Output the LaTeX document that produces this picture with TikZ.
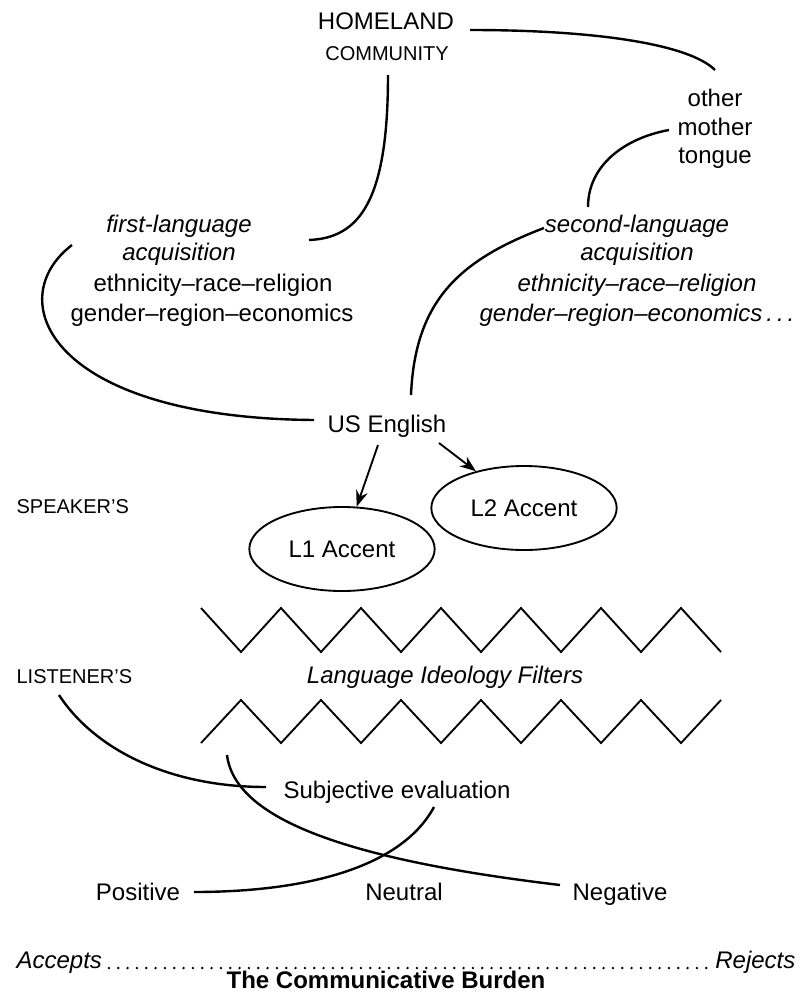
\documentclass[tikz,border=0pt]{standalone}
\usepackage{fontspec}
\setmainfont{Liberation Sans}
\usetikzlibrary{shapes.geometric,arrows.meta}

\begin{document}
\begin{tikzpicture}[x=0.75pt,y=-0.75pt,
		txt/.style={font=\fontsize{18}{22}\selectfont, inner sep=1pt, anchor=base},
		smallcaps/.style={font=\fontsize{15}{18}\selectfont, inner sep=1pt, anchor=base},
		curve/.style={line width=1.8pt},
		accent/.style={draw, ellipse, line width=1.4pt, minimum width=139pt, minimum height=63pt, inner sep=0pt, font=\fontsize{18}{22}\selectfont},
		arr/.style={line width=1.4pt, -{Stealth[length=12pt,width=9pt]}},
		zigzag/.style={line width=1.4pt, line join=miter}]
		\useasboundingbox (0,0) rectangle (801,996);

		\node[txt] (home) at (386,29) {HOMELAND};
		\node[smallcaps] (comm) at (387,60) {COMMUNITY};
		\node[txt] (other) at (715,106) {other};
		\node[txt] (mother) at (715,135) {mother};
		\node[txt] (tongue) at (715,163) {tongue};

		\node[txt] (first) at (179,232) {\itshape first-language};
		\node[txt] (acqa) at (179,260) {\itshape acquisition};
		\node[txt] (etha) at (213,291) {ethnicity–race–religion};
		\node[txt] (gena) at (212,321) {gender–region–economics};

		\node[txt] (second) at (637,232) {\itshape second-language};
		\node[txt] (acqb) at (637,260) {\itshape acquisition};
		\node[txt] (ethb) at (637,291) {\itshape ethnicity–race–religion};
		\node[txt] (genb) at (637,321) {\itshape gender–region–economics\,.\,.\,.};

		\node[txt] (us) at (387,432) {US English};
		\node[smallcaps, anchor=base west] (speaker) at (15,513) {SPEAKER'S};
		\node[accent] (l1) at (342,549) {L1 Accent};
		\node[accent] (l2) at (524,508) {L2 Accent};
		\node[smallcaps, anchor=base west] (listener) at (15,683) {LISTENER'S};
		\node[txt] (filters) at (445,683) {\itshape Language Ideology Filters};
		\node[txt] (subj) at (397,798) {Subjective evaluation};
		\node[txt] (pos) at (138,900) {Positive};
		\node[txt] (neu) at (404,900) {Neutral};
		\node[txt] (neg) at (620,900) {Negative};
		\node[txt, anchor=base west] (acc) at (15,968) {\itshape Accepts};
		\node[txt, anchor=base east] (rej) at (797,968) {\itshape Rejects};
		\node[txt] (burden) at (386,988) {\bfseries The Communicative Burden};

		\coordinate (home-r) at (470,30);
		\coordinate (other-t) at (715,70);
		\coordinate (comm-b) at (388,75);
		\coordinate (first-r) at (309,240);
		\coordinate (mother-l) at (669,130);
		\coordinate (second-t) at (588,207);
		\coordinate (first-l) at (72,245);
		\coordinate (us-l) at (314,420);
		\coordinate (second-l) at (544,228);
		\coordinate (us-t) at (411,395);
		\coordinate (us-a) at (378,445);
		\coordinate (us-b) at (439,443);
		\coordinate (listener-b) at (59,695);
		\coordinate (subj-l) at (266,787);
		\coordinate (subj-b) at (434,807);
		\coordinate (pos-r) at (194,892);
		\coordinate (filter-b) at (227,755);
		\coordinate (neg-l) at (560,885);

		\draw[curve] (home-r) .. controls (600,30) and (690,45) .. (other-t);
		\draw[curve] (comm-b) .. controls (388,200) and (360,238) .. (first-r);
		\draw[curve] (mother-l) .. controls (625,138) and (588,165) .. (second-t);
		\draw[curve] (first-l) .. controls (0,300) and (50,418) .. (us-l);
		\draw[curve] (second-l) .. controls (460,260) and (415,300) .. (us-t);
		\draw[arr] (us-a) -- (l1);
		\draw[arr] (us-b) -- (l2);

		\draw[zigzag] (201,608) \foreach \k in {1,...,13} {-- ({201+40*\k},{mod(\k,2)==1 ? 652 : 608})};
		\draw[zigzag] (201,743) \foreach \k in {1,...,13} {-- ({201+40*\k},{mod(\k,2)==1 ? 700 : 743})};

		\draw[curve] (listener-b) .. controls (95,750) and (170,787) .. (subj-l);
		\draw[curve] (subj-b) .. controls (400,870) and (300,892) .. (pos-r);
		\draw[curve] (filter-b) .. controls (235,820) and (350,860) .. (neg-l);

		\draw[line width=2pt, line cap=round, dash pattern=on 0pt off 7pt, shorten <=4pt, shorten >=4pt] (acc.base east) -- (rej.base west);
	\end{tikzpicture}
\end{document}
